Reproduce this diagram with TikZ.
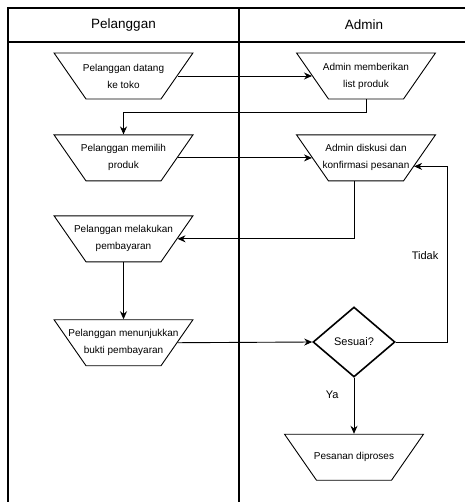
\documentclass[tikz,border=0pt]{standalone}
\usepackage{fontspec}
\setmainfont{Liberation Sans}
\usetikzlibrary{positioning,arrows.meta,calc,shapes.geometric}

\begin{document}
\begin{tikzpicture}[
  x=1pt, y=-1pt,
  font=\fontsize{11}{13}\selectfont,
  lane/.style={line width=1.3pt},
  head/.style={font=\fontsize{13.5}{16}\selectfont},
  proc/.style={draw, trapezium, shape border rotate=180, trapezium stretches,
    minimum width=139pt, minimum height=46pt, inner xsep=13.56pt, inner ysep=10pt,
    line width=0.9pt, label={[proctext]center:#1}},
  proctext/.style={align=center, font=\fontsize{10}{17}\selectfont},
  decide/.style={draw, diamond, aspect=1.17, minimum width=82pt, minimum height=70pt,
    inner sep=0pt, line width=1.6pt},
  arr/.style={-{Stealth[length=8pt,width=7pt]}, line width=0.9pt},
  lbl/.style={font=\fontsize{11}{13}\selectfont, inner sep=1pt},
  ]
  \useasboundingbox (0,0) rectangle (465,502);

  % swimlanes
  \draw[lane] (465,8) -- (8,8) -- (8,502);
  \draw[lane] (8,42) -- (465,42);
  \draw[lane] (239,8) -- (239,502);
  \node[head] (hpel) at (123.5,25) {Pelanggan};
  \node[head] (hadm) at (364,25) {Admin};

  % Pelanggan
  \node[proc={Pelanggan datang\\ke toko}] (pdatang) at (123.5,76) {};
  \node[proc={Pelanggan memilih\\produk}, below=35pt of pdatang] (ppilih) {};
  \node[proc={Pelanggan melakukan\\pembayaran}, below=34pt of ppilih] (pbayar) {};
  \node[proc={Pelanggan menunjukkan\\bukti pembayaran}, below=57pt of pbayar] (pbukti) {};

  % Admin
  \node[proc={Admin memberikan\\list produk}] (alist) at (366,76) {};
  \node[proc={Admin diskusi dan\\konfirmasi pesanan}, below=35pt of alist] (adiskusi) {};
  \node[decide] (sesuai) at (354,342) {Sesuai?};
  \node[proc={Pesanan diproses}, below=56pt of sesuai] (proses) {};

  \draw[arr] (pdatang.east) -- (alist.west);
  \draw[arr] (alist.south) -- ++(0,13) -| (ppilih.north);
  \draw[arr] (ppilih.east) -- (adiskusi.west);
  \draw[arr] (adiskusi.south -| sesuai.north) |- (pbayar.east);
  \draw[arr] (pbayar.south) -- (pbukti.north);
  \draw[arr] (pbukti.east) -- (sesuai.west);
  \draw[arr] (sesuai.east) -- ++(52,0) |- node[lbl, pos=0.245, left=8pt]{Tidak} (adiskusi.-10);
  \draw[arr] (sesuai.south) -- node[lbl, pos=0.3, left=14pt]{Ya} (proses.north);
\end{tikzpicture}
\end{document}
